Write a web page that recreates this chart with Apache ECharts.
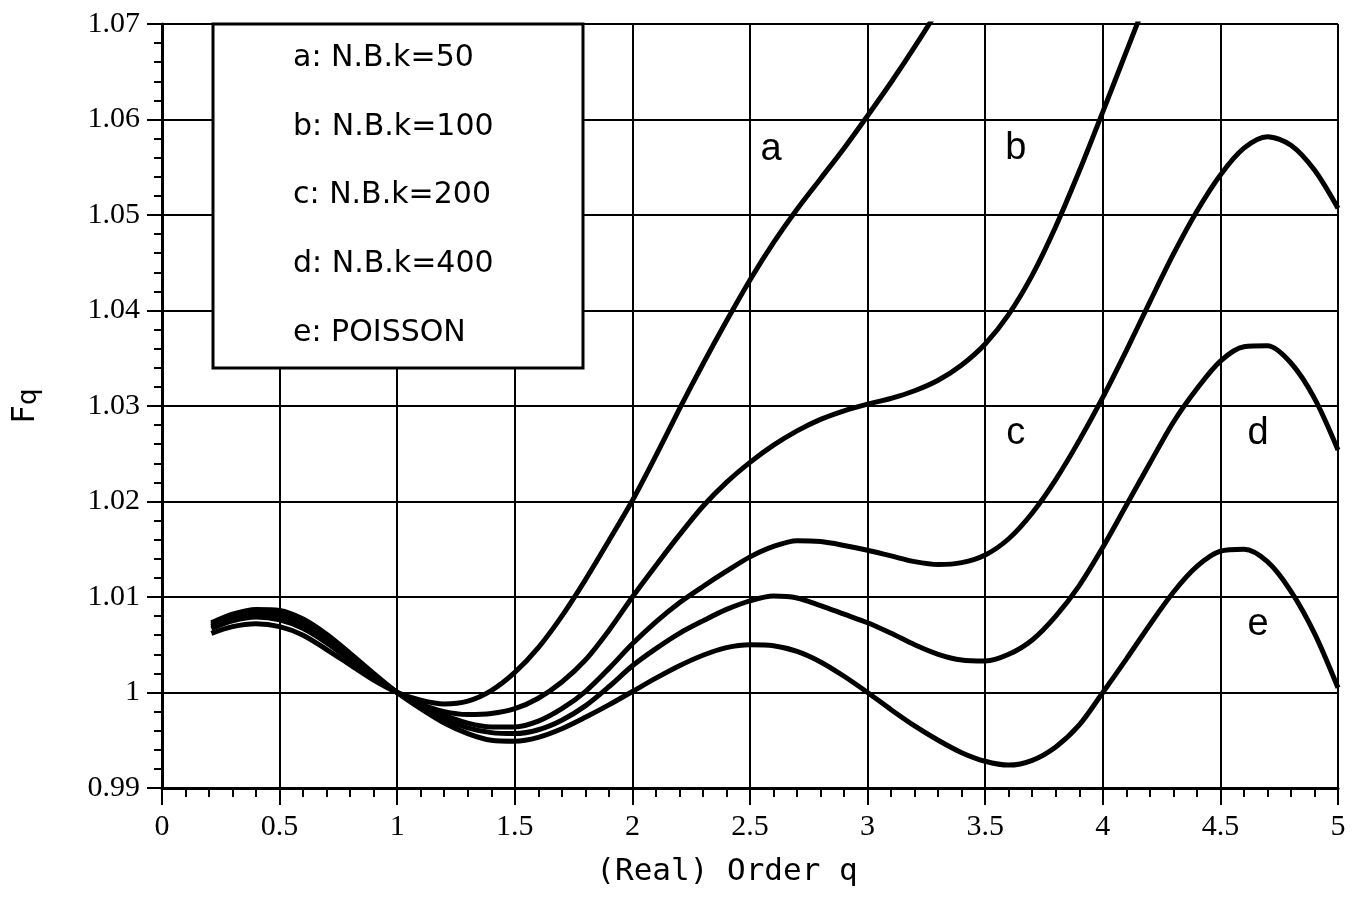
<!DOCTYPE html>
<html>
<head>
<meta charset="utf-8">
<title>Fq vs real order q</title>
<script src="https://cdn.jsdelivr.net/npm/echarts@6/dist/echarts.min.js"></script>
<style>
  html, body { margin: 0; padding: 0; background: #fff; }
  #main { width: 1357px; height: 901px; }
</style>
</head>
<body>
<div id="main"></div>
<script>
  // q grid shared by all curves
  var qValues = [0.21, 0.3, 0.4, 0.5, 0.6, 0.7, 0.8, 0.9, 1.0,
    1.1, 1.2, 1.3, 1.4, 1.5, 1.6, 1.7, 1.8, 1.9, 2.0,
    2.1, 2.2, 2.3, 2.4, 2.5, 2.6, 2.7, 2.8, 2.9, 3.0,
    3.1, 3.2, 3.3, 3.4, 3.5, 3.6, 3.7, 3.8, 3.9, 4.0,
    4.1, 4.2, 4.3, 4.4, 4.5, 4.6, 4.7, 4.8, 4.9, 5.0];

  // a: N.B. k=50 (leaves the frame above 1.07)
  var fqA = [1.0062, 1.0069, 1.0072, 1.0069, 1.0060, 1.0045, 1.0029, 1.0013, 1.0000,
    0.9992, 0.9988, 0.9991, 1.0002, 1.0021, 1.0047, 1.0080, 1.0118, 1.0159, 1.0201,
    1.0248, 1.0297, 1.0344, 1.0389, 1.0432, 1.0471, 1.0506, 1.0538, 1.0570, 1.0604,
    1.0639, 1.0676, 1.0715, 1.0756, null, null, null, null, null, null,
    null, null, null, null, null, null, null, null, null, null];

  // b: N.B. k=100
  var fqB = [1.0067, 1.0075, 1.0079, 1.0076, 1.0067, 1.0052, 1.0034, 1.0016, 1.0000,
    0.9988, 0.9980, 0.9977, 0.9978, 0.9983, 0.9994, 1.0011, 1.0034, 1.0065, 1.0100,
    1.0133, 1.0165, 1.0195, 1.0220, 1.0241, 1.0259, 1.0274, 1.0286, 1.0295, 1.0302,
    1.0308, 1.0316, 1.0327, 1.0343, 1.0365, 1.0396, 1.0437, 1.0488, 1.0546, 1.0608,
    1.0671, 1.0734, null, null, null, null, null, null, null, null];

  // c: N.B. k=200
  var fqC = [1.0069, 1.0078, 1.0082, 1.0080, 1.0071, 1.0055, 1.0037, 1.0018, 1.0000,
    0.9987, 0.9976, 0.9968, 0.9964, 0.9964, 0.9970, 0.9983, 1.0001, 1.0025, 1.0051,
    1.0074, 1.0094, 1.0111, 1.0127, 1.0142, 1.0153, 1.0159, 1.0158, 1.0154, 1.0149,
    1.0143, 1.0137, 1.0134, 1.0136, 1.0144, 1.0161, 1.0188, 1.0223, 1.0264, 1.0309,
    1.0358, 1.0409, 1.0459, 1.0504, 1.0542, 1.0570, 1.0582, 1.0573, 1.0547, 1.0507];

  // d: N.B. k=400
  var fqD = [1.0071, 1.0080, 1.0085, 1.0083, 1.0074, 1.0058, 1.0039, 1.0019, 1.0000,
    0.9985, 0.9972, 0.9963, 0.9958, 0.9957, 0.9961, 0.9971, 0.9986, 1.0006, 1.0028,
    1.0046, 1.0062, 1.0075, 1.0087, 1.0096, 1.0101, 1.0099, 1.0091, 1.0082, 1.0073,
    1.0062, 1.0050, 1.0040, 1.0034, 1.0033, 1.0040, 1.0055, 1.0080, 1.0112, 1.0152,
    1.0196, 1.0240, 1.0283, 1.0318, 1.0347, 1.0362, 1.0363, 1.0345, 1.0308, 1.0254];

  // e: Poisson
  var fqE = [1.0073, 1.0082, 1.0087, 1.0086, 1.0077, 1.0061, 1.0041, 1.0020, 1.0000,
    0.9983, 0.9968, 0.9957, 0.9950, 0.9949, 0.9953, 0.9962, 0.9974, 0.9987, 1.0001,
    1.0015, 1.0028, 1.0039, 1.0047, 1.0050, 1.0049, 1.0043, 1.0032, 1.0017, 1.0000,
    0.9982, 0.9965, 0.9950, 0.9937, 0.9928, 0.9924, 0.9929, 0.9943, 0.9966, 1.0000,
    1.0035, 1.0071, 1.0105, 1.0132, 1.0148, 1.0150, 1.0137, 1.0106, 1.0062, 1.0005];

  var curveNames = ['a', 'b', 'c', 'd', 'e'];
  var curveValues = [fqA, fqB, fqC, fqD, fqE];

  // where the letters sit next to the curves (data coords)
  var tagX = [2.59, 3.63, 3.63, 4.66, 4.66];
  var tagY = [1.0569, 1.0570, 1.0271, 1.0271, 1.0071];

  var legendLines = ['a: N.B.k=50', 'b: N.B.k=100', 'c: N.B.k=200', 'd: N.B.k=400', 'e: POISSON'];

  var xMin = 0, xMax = 5, xStep = 0.5;
  var yMin = 0.99, yMax = 1.07, yStep = 0.01;

  function buildSeries() {
    var series = curveNames.map(function (name, i) {
      return {
        name: name,
        type: 'line',
        smooth: 0.3,
        symbol: 'none',
        clip: true,
        z: 3,
        lineStyle: { color: '#000', width: 5 },
        data: qValues.map(function (q, j) { return [q, curveValues[i][j]]; })
      };
    });
    series.push({
      name: 'tags',
      type: 'scatter',
      symbolSize: 0,
      z: 4,
      itemStyle: { color: '#000', opacity: 1 },
      label: {
        show: true,
        position: 'inside',
        formatter: function (p) { return p.data[2]; },
        fontFamily: 'Liberation Sans',
        fontSize: 38,
        color: '#000',
        opacity: 1
      },
      data: curveNames.map(function (n, i) { return [tagX[i], tagY[i], n]; })
    });
    return series;
  }

  function buildLegendBox() {
    var items = [{
      type: 'rect',
      z: 100,
      shape: { x: 213, y: 24, width: 370, height: 344 },
      style: { fill: '#fff', stroke: '#000', lineWidth: 3 }
    }];
    legendLines.forEach(function (txt, i) {
      items.push({
        type: 'text',
        z: 101,
        x: 293,
        y: 58 + i * 68.8,
        style: {
          text: txt,
          fontFamily: 'DejaVu Sans',
          fontSize: 30,
          fill: '#000',
          verticalAlign: 'middle'
        }
      });
    });
    return items;
  }

  function getChartOption() {
    var serif = 'Liberation Serif';
    return {
      backgroundColor: '#fff',
      animation: false,
      grid: { left: 162, right: 19, top: 24, bottom: 113, containLabel: false, outerBoundsMode: 'none' },
      xAxis: {
        type: 'value',
        min: xMin,
        max: xMax,
        interval: xStep,
        name: '(Real) Order q',
        nameLocation: 'middle',
        nameGap: 68,
        nameTextStyle: {
          fontFamily: 'DejaVu Sans Mono',
          fontSize: 31,
          color: '#000',
          padding: [0, 46, 0, 0]
        },
        axisLine: { lineStyle: { color: '#000', width: 3 } },
        axisTick: { length: 17, lineStyle: { color: '#000', width: 2 } },
        minorTick: { show: true, splitNumber: 5, length: 9, lineStyle: { color: '#000', width: 2 } },
        splitLine: { show: true, lineStyle: { color: '#000', width: 2 } },
        axisLabel: {
          margin: 24,
          fontFamily: serif,
          fontSize: 30,
          color: '#000',
          formatter: function (v) { return String(+v.toFixed(1)); }
        }
      },
      yAxis: {
        type: 'value',
        min: yMin,
        max: yMax,
        interval: yStep,
        name: '{f|F}{q|q}',
        nameLocation: 'middle',
        nameRotate: 90,
        nameGap: 120,
        nameTextStyle: {
          color: '#000',
          rich: {
            f: { fontFamily: 'DejaVu Sans', fontSize: 32, lineHeight: 32, verticalAlign: 'top', color: '#000' },
            q: { fontFamily: 'DejaVu Sans', fontSize: 26, lineHeight: 26, verticalAlign: 'bottom', padding: [16, 0, 0, 0], color: '#000' }
          }
        },
        axisLine: { show: true, lineStyle: { color: '#000', width: 3 } },
        axisTick: { show: true, length: 15, lineStyle: { color: '#000', width: 2 } },
        minorTick: { show: true, splitNumber: 5, length: 8, lineStyle: { color: '#000', width: 2 } },
        splitLine: { show: true, lineStyle: { color: '#000', width: 2 } },
        axisLabel: {
          margin: 22,
          fontFamily: serif,
          fontSize: 30,
          color: '#000',
          formatter: function (v) { return String(+v.toFixed(2)); }
        }
      },
      graphic: buildLegendBox(),
      series: buildSeries()
    };
  }

  var myChart = echarts.init(document.getElementById('main'));
  myChart.setOption(getChartOption());
</script>
</body>
</html>
